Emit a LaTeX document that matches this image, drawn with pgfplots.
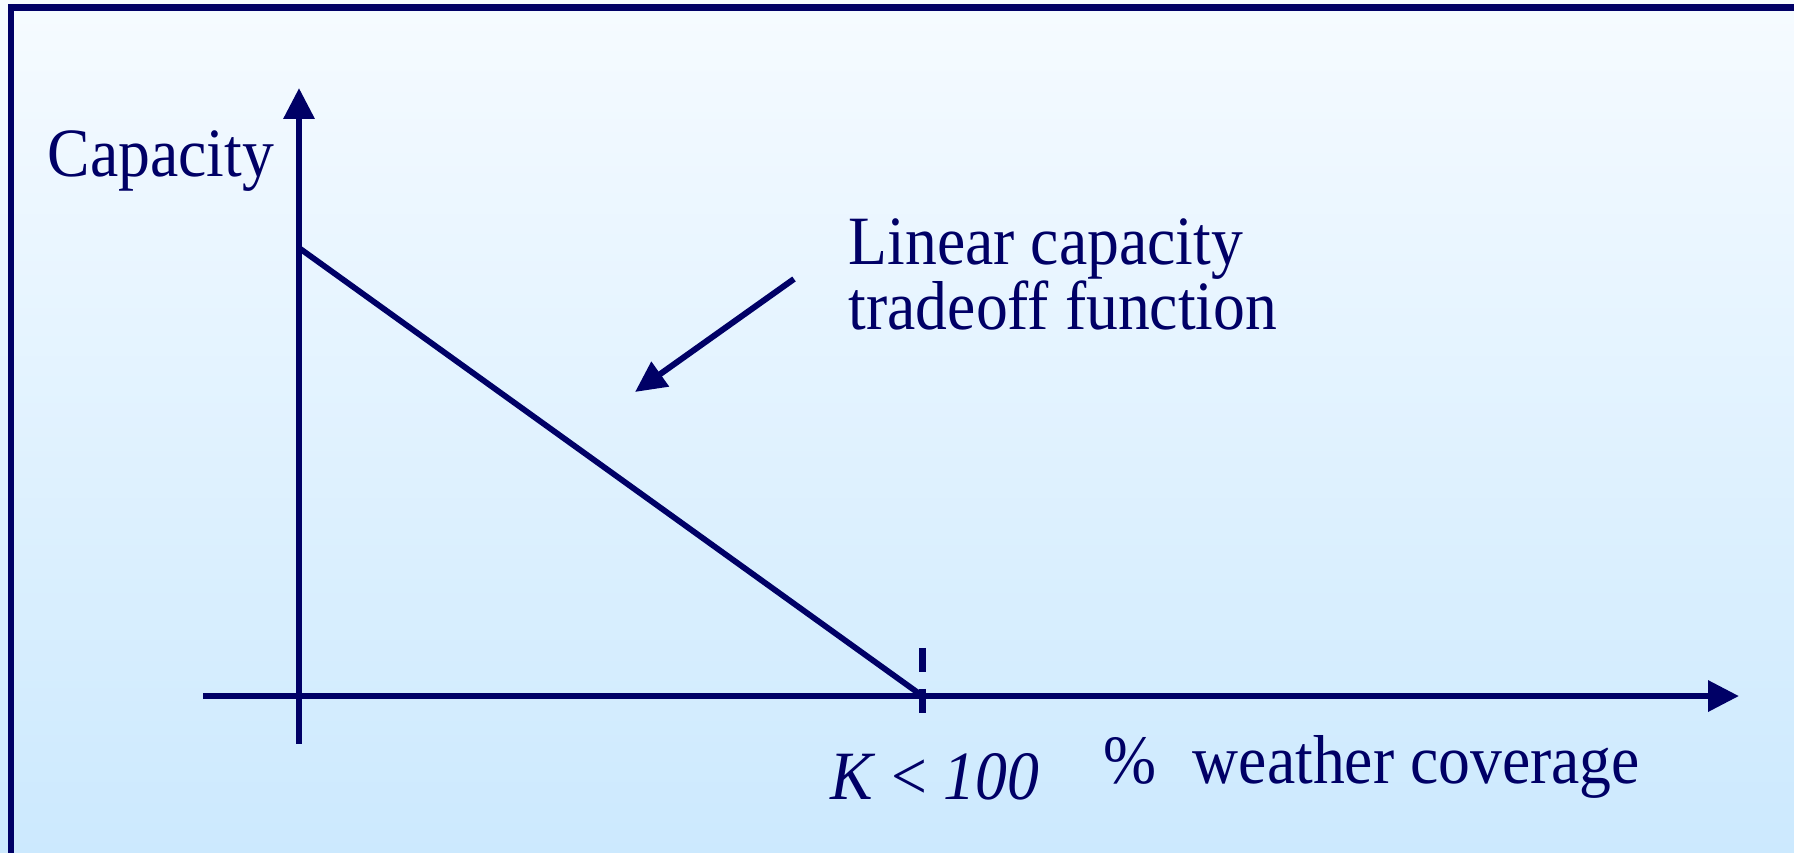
\documentclass[border=0pt]{standalone}
\usepackage{fontspec}
\setmainfont{Liberation Serif}[FakeStretch=0.92]
\usepackage{xcolor}
\definecolor{navy}{RGB}{0,0,102}
\definecolor{bgtop}{RGB}{246,251,255}
\definecolor{bgbot}{RGB}{204,233,254}
\usepackage{tikz}
\usetikzlibrary{arrows.meta}
\usepackage{pgfplots}
\pgfplotsset{compat=1.18}

\begin{document}
% picture measured in pixels of the reference: 1px = 0.25pt
\begin{tikzpicture}[x=0.25pt, y=0.25pt, font=\fontsize{17.3pt}{16.25pt}\selectfont]
\path[use as bounding box] (0,0) rectangle (1794,853);
\begin{scope}
\clip (0,0) rectangle (1794,853);
\shade[top color=bgtop, bottom color=bgbot] (0,0) rectangle (1794,853);
\draw[navy, line width=1.7pt] (11,845.5) rectangle (1900,-200);
\end{scope}

\begin{axis}[
  at={(50.75pt,27.25pt)}, anchor=south west,
  scale only axis, width=384pt, height=164pt,
  xmin=-0.154, xmax=2.3095, ymin=-0.107, ymax=1.357,
  axis lines=middle,
  axis line style={navy, line width=1.6pt, -{Triangle[length=7.75pt,width=7.5pt]}},
  xtick=\empty, ytick=\empty,
  clip=false,
]
% capacity falls linearly to zero at K
\addplot[navy, line width=1.45pt] coordinates {(0,1) (1,0)};
\end{axis}

% tick at K
\draw[navy, line width=1.6pt] (922.5,205) -- (922.5,181);
\draw[navy, line width=1.6pt] (922.5,164) -- (922.5,140);

% annotation
\draw[navy, line width=1.5pt, -{Triangle[length=7.75pt,width=7.3pt]}] (794,574) -- (635,461);

\node[navy, anchor=base west, inner sep=0pt] at (47,676) {Capacity};
\node[navy, anchor=base west, inner sep=0pt] at (848,588) {Linear capacity};
\node[navy, anchor=base west, inner sep=0pt] at (848,523) {tradeoff function};
\node[navy, anchor=base west, inner sep=0pt] at (830,53) {\textit{K} < \textit{100}};
\node[navy, anchor=base west, inner sep=0pt] at (1103,69) {\%\hspace{9pt}weather coverage};
\end{tikzpicture}
\end{document}
